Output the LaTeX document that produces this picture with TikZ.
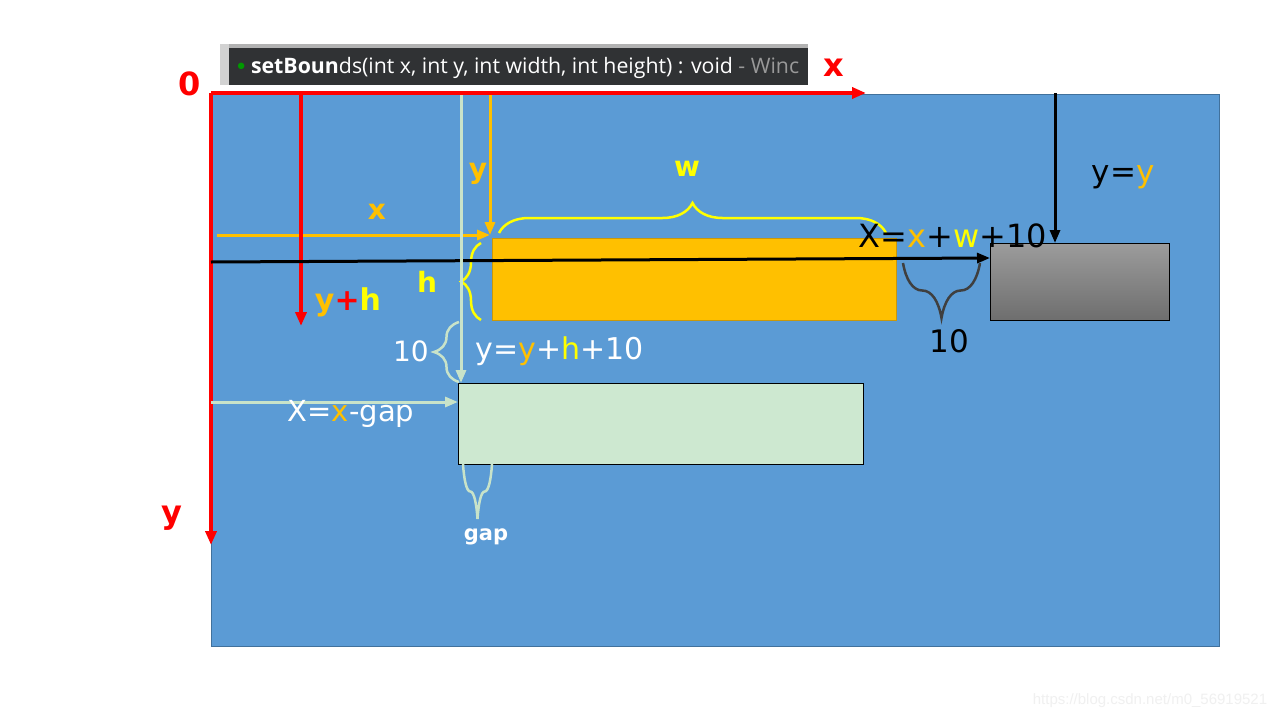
\documentclass[tikz,border=0pt]{standalone}
\usepackage{xcolor}
\usepackage{fontspec}
\setmainfont{DejaVu Sans}
\newfontfamily\idefont{Open Sans}
\newfontfamily\markfont{Liberation Sans}
\usetikzlibrary{arrows.meta,decorations.pathreplacing,positioning}

\definecolor{sheetblue}{HTML}{5B9BD5}
\definecolor{sheetedge}{HTML}{41719C}
\definecolor{xorange}{HTML}{FFC000}
\definecolor{oedge}{HTML}{C9980A}
\definecolor{xyellow}{HTML}{FFFF00}
\definecolor{paleg}{HTML}{C8E3C9}
\definecolor{boxgreen}{HTML}{CDE8D0}
\definecolor{bracegray}{HTML}{3F3F3F}
\definecolor{ideback}{HTML}{303234}
\definecolor{greytop}{HTML}{9C9C9C}
\definecolor{greybot}{HTML}{6E6E6E}

\newcommand{\orng}[1]{\textcolor{xorange}{#1}}
\newcommand{\yelw}[1]{\textcolor{xyellow}{#1}}

\begin{document}
\begin{tikzpicture}
		[x=1pt,y=-1pt,
			win/.style ={rectangle, anchor=north west, inner sep=0pt, outer sep=0pt},
 axis/.style ={draw=red, line width=3.5pt, -{Triangle[length=14pt,width=11pt]}},
 oline/.style ={draw=xorange, line width=3pt, -{Triangle[length=13pt,width=10pt]}},
 gline/.style ={draw=paleg, line width=3pt, -{Triangle[length=13pt,width=10pt]}},
 bline/.style ={draw=black, line width=3pt, -{Triangle[length=13pt,width=10pt]}},
 curly/.style ={decorate, decoration={brace, amplitude=#1}, line width=2.5pt},
 lbl/.style ={inner sep=0pt, font=\fontsize{30}{36}\selectfont},
 blbl/.style ={inner sep=0pt, font=\fontsize{28}{34}\selectfont\bfseries}]
		\useasboundingbox (0,0) rectangle (1280,720);
		\fill[white] (0,0) rectangle (1280,720);
%		sheet
		\node[win, fill=sheetblue, draw=sheetedge, line width=0.8pt, minimum width=1008pt, minimum height=552pt] (sheet) at (211,94) {};
%		screenshot of the method
		\fill[gray!35] (220,44) rectangle (229,85);
		\fill[ideback] (229,44) rectangle (808,85);
		\fill[gray!60] (229,44) rectangle (808,48);
		\node[inner sep=0pt, anchor=west, font=\idefont\fontsize{21.3}{25}\selectfont] (sig) at (237,68)
		{\textcolor{green!60!black}{\raisebox{0.15em}{\scalebox{0.8}{$\bullet$}}}
		\textcolor{white}{\textbf{setBoun}ds(int x, int y, int width, int height) : void} \textcolor{gray!80}{- Winc}};
%		boxes
		\node[win, fill=xorange, draw=oedge, line width=1pt, minimum width=404pt, minimum height=82pt] (cur) at (492,238) {};
		\node[win, top color=greytop, bottom color=greybot, draw=black, line width=0.8pt, minimum width=179pt, minimum height=77pt] (next) at (990,243) {};
		\node[win, fill=boxgreen, draw=black, line width=0.8pt, minimum width=405pt, minimum height=81pt] (below) at (458,383) {};
%		axes
		\coordinate (o) at (211,93);
		\coordinate (xend) at (866,93);
		\coordinate (yend) at (211,545);
		\draw[axis] (o) -- (xend);
		\draw[axis] (o) -- (yend);
		\node[blbl, red, font=\fontsize{32}{38}\selectfont\bfseries] (zero) at (190,84) {0};
		\node[blbl, red, font=\fontsize{32}{38}\selectfont\bfseries] (xlab) at (834,68) {x};
		\node[blbl, red, font=\fontsize{32}{38}\selectfont\bfseries] (ylab) at (172,518) {y};
%		x and y of the box
		\coordinate (ox) at (217,235);
		\coordinate (oy) at (490,95);
		\coordinate (corner) at ([shift={(-2pt,3pt)}]cur.north west);
		\draw[oline] (ox) -- (corner);
		\draw[oline] (oy) -- (corner);
		\node[blbl, xorange] (xname) at (377,212) {x};
		\node[blbl, xorange] (yname) at (478,174) {y};
%		y+h
		\coordinate (yh) at (301,93);
		\coordinate (yhend) at (301,326);
		\draw[axis] (yh) -- (yhend);
		\node[blbl, font=\fontsize{30}{36}\selectfont\bfseries] (yhlab) at (348,302) {\orng{y}\textcolor{red}{+}\yelw{h}};
%		w and h braces
		\draw[curly=30pt, xyellow] (499,233) -- (886,233);
		\node[blbl, xyellow] (wlab) at (687,169) {w};
		\draw[curly=20pt, xyellow] (481,320) -- (481,243);
		\node[blbl, xyellow] (hlab) at (427,282) {h};
%		next box to the right
		\coordinate (row) at (211,262);
		\coordinate (col) at (1055,93);
		\draw[bline] (row) -- ([yshift=-15pt]next.north west);
		\draw[bline] (col) -- ([xshift=65pt]next.north west);
		\node[lbl, font=\fontsize{32}{38}\selectfont] (xnext) at (953,236) {X=\orng{x}+\yelw{w}+10};
		\node[lbl, font=\fontsize{31}{37}\selectfont] (ynext) at (1123,177) {y=\orng{y}};
		\draw[curly=55pt, bracegray] (980,263) -- (903,263);
		\node[lbl, font=\fontsize{31}{37}\selectfont] (tenr) at (949,341) {10};
%		next box below
		\coordinate (down) at (461,95);
		\coordinate (left) at (211,402);
		\draw[gline] (down) -- ([xshift=3pt]below.north west);
		\draw[gline] (left) -- ([yshift=-19pt]below.north west);
		\draw[curly=25pt, paleg] (459,382) -- (459,322);
		\node[lbl, white, font=\fontsize{28}{34}\selectfont] (tenb) at (411,351) {10};
		\node[lbl, white] (ybelow) at (560,351) {y=\orng{y}+\yelw{h}+10};
		\node[lbl, white, font=\fontsize{29}{35}\selectfont] (xbelow) at (351,414) {X=\orng{x}-gap};
		\draw[curly=55pt, paleg] (492,464) -- (463,464);
		\node[lbl, white, font=\fontsize{21}{25}\selectfont\bfseries] (gaplab) at (486,537) {gap};
%		watermark
		\node[inner sep=0pt, text=gray!12, font=\markfont\fontsize{15}{18}\selectfont] (mark) at (1150,701) {https://blog.csdn.net/m0\_56919521};
	\end{tikzpicture}
\end{document}
